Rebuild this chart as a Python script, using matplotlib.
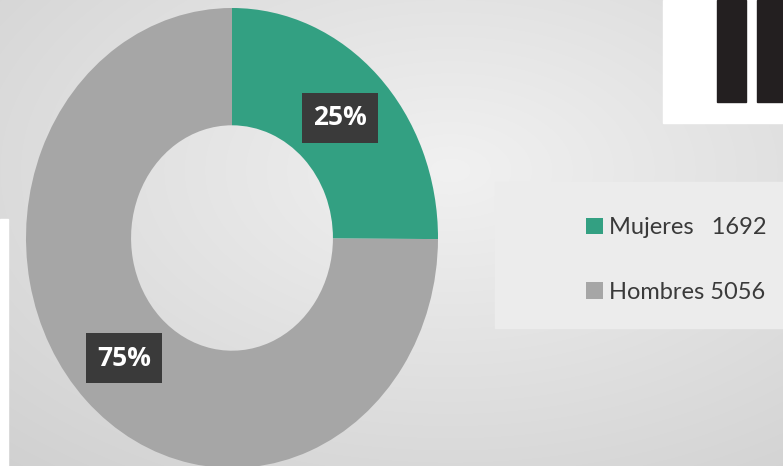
import numpy as np
import matplotlib
matplotlib.use("Agg")
import matplotlib.pyplot as plt
from matplotlib.patches import Rectangle

labels = ["Mujeres", "Hombres"]
values = [1692, 5056]
legend_labels = ["Mujeres   1692", "Hombres 5056"]
colors = ["#33a082", "#a6a6a6"]

W, H = 783, 466
fig = plt.figure(figsize=(W / 100, H / 100), dpi=100)

# background: soft radial grey gradient, drawn in pixel space
bg = fig.add_axes([0, 0, 1, 1])
yy, xx = np.mgrid[0:H, 0:W]
d = np.hypot((xx - 450) / W, (yy - 170) / H)
shade = 0.945 - 0.15 * d
bg.imshow(np.dstack([shade] * 3), extent=(0, W, H, 0), aspect="auto")
bg.set_xlim(0, W)
bg.set_ylim(H, 0)
bg.axis("off")

# pieces of the surrounding slide
bg.add_patch(Rectangle((0, 219), 8, H - 219, color="white"))
bg.add_patch(Rectangle((663, 0), W - 663, 123, color="white"))
bg.add_patch(Rectangle((717, 0), 29, 102, color="#231f20"))
bg.add_patch(Rectangle((757, 0), 30, 102, color="#231f20"))
bg.add_patch(Rectangle((495, 182), W - 495, 146, color="#ececec"))

# donut, stretched a little vertically like the source image
ax = fig.add_axes([0, 0, 1, 1])
ax.patch.set_alpha(0)
rx, ry, cx, cy = 206, 230, 232, 238
wedges, _, pcts = ax.pie(
    values, colors=colors, startangle=90, counterclock=False,
    autopct="%1.0f%%", pctdistance=0.74,
    wedgeprops=dict(width=0.51, edgecolor="none"),
    textprops=dict(color="white", fontsize=19, fontweight="bold", family="Open Sans"),
)
for t in pcts:
    t.set_bbox(dict(boxstyle="square,pad=0.42", facecolor="#3a3a3a", edgecolor="none"))
ax.set_aspect("auto")
ax.set_xlim(-cx / rx, (W - cx) / rx)
ax.set_ylim(-(H - cy) / ry, cy / ry)
ax.axis("off")

leg = fig.legend(
    wedges, legend_labels, loc="center left", bbox_to_anchor=(565 / W, 1 - 260 / H),
    frameon=False, prop=dict(family="Lato", size=17), labelcolor="#3a3a3a",
    handlelength=0.7, handleheight=0.7, handletextpad=0.25, labelspacing=1.85,
)

fig.savefig("out.png", dpi=100)
